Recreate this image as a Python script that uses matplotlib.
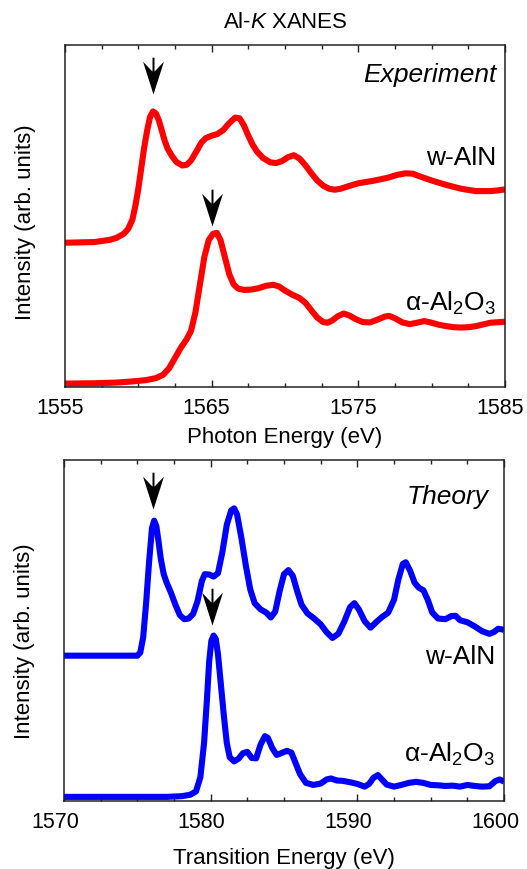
"""Al-K XANES: experiment vs theory for w-AlN and alpha-Al2O3 (two stacked panels)."""

import matplotlib

matplotlib.use("Agg")

import matplotlib.pyplot as plt
from matplotlib.path import Path
from matplotlib.ticker import MultipleLocator
from matplotlib.transforms import ScaledTranslation

plt.rcParams["font.family"] = ["Liberation Sans", "DejaVu Sans"]
plt.rcParams["mathtext.fontset"] = "custom"
plt.rcParams["mathtext.rm"] = "Liberation Sans"
plt.rcParams["mathtext.it"] = "Liberation Sans:italic"

# --- experiment (offset, normalised intensity) ---
exp_aln_e = [1555, 1556, 1557, 1558, 1558.5, 1559, 1559.3, 1559.6, 1559.8, 1560, 1560.2,
             1560.4, 1560.6, 1560.8, 1561, 1561.2, 1561.4, 1561.6, 1561.8, 1562, 1562.3,
             1562.6, 1563, 1563.3, 1563.6, 1564, 1564.3, 1564.6, 1565, 1565.4, 1565.8,
             1566.2, 1566.6, 1566.9, 1567.2, 1567.5, 1567.8, 1568.1, 1568.5, 1569, 1569.4,
             1569.8, 1570.2, 1570.6, 1571, 1571.4, 1571.8, 1572.2, 1572.6, 1573, 1573.4,
             1573.8, 1574.3, 1575, 1576, 1577, 1577.6, 1578.2, 1578.7, 1579.2, 1580, 1581,
             1582, 1583, 1584, 1584.5, 1585]
exp_aln_i = [0.422, 0.423, 0.424, 0.430, 0.436, 0.448, 0.462, 0.490, 0.530, 0.580, 0.640,
             0.700, 0.750, 0.790, 0.806, 0.800, 0.780, 0.750, 0.720, 0.697, 0.675,
             0.658, 0.648, 0.650, 0.663, 0.692, 0.715, 0.728, 0.735, 0.740, 0.752,
             0.772, 0.788, 0.786, 0.765, 0.735, 0.708, 0.688, 0.670, 0.657, 0.655,
             0.661, 0.672, 0.678, 0.668, 0.648, 0.625, 0.604, 0.589, 0.580, 0.577,
             0.580, 0.587, 0.596, 0.603, 0.612, 0.620, 0.625, 0.624, 0.616, 0.604, 0.591,
             0.580, 0.573, 0.573, 0.575, 0.578]

exp_al2o3_e = [1555, 1557, 1558.5, 1559.5, 1560.5, 1561.2, 1561.7, 1562.1, 1562.5, 1562.9,
               1563.3, 1563.6, 1563.9, 1564.2, 1564.5, 1564.8, 1565.1, 1565.35, 1565.6,
               1565.9, 1566.2, 1566.5, 1566.8, 1567.2, 1567.7, 1568.2, 1568.7, 1569.2,
               1569.6, 1570, 1570.5, 1571, 1571.4, 1571.8, 1572.2, 1572.6, 1572.9, 1573.2,
               1573.6, 1574, 1574.4, 1574.8, 1575.3, 1575.8, 1576.3, 1576.8, 1577.1, 1577.5,
               1578, 1578.5, 1579, 1579.5, 1580, 1580.5, 1581, 1581.5, 1582, 1582.5, 1583,
               1584, 1585]
exp_al2o3_i = [0.010, 0.011, 0.013, 0.016, 0.020, 0.026, 0.036, 0.055, 0.085, 0.115,
               0.140, 0.165, 0.220, 0.300, 0.380, 0.430, 0.448, 0.451, 0.430,
               0.380, 0.330, 0.300, 0.288, 0.284, 0.285, 0.289, 0.296, 0.299,
               0.294, 0.282, 0.270, 0.260, 0.246, 0.224, 0.203, 0.190, 0.188, 0.194,
               0.207, 0.215, 0.209, 0.199, 0.190, 0.189, 0.197, 0.206, 0.208, 0.201,
               0.189, 0.184, 0.188, 0.193, 0.188, 0.182, 0.178, 0.175, 0.174, 0.175, 0.178,
               0.188, 0.191]

# --- theory ---
th_aln_e = [1570, 1575, 1575.2, 1575.4, 1575.6, 1575.8, 1576, 1576.15, 1576.3, 1576.45,
            1576.6, 1576.8, 1577, 1577.3, 1577.6, 1577.9, 1578.2, 1578.5, 1578.8, 1579.1,
            1579.4, 1579.6, 1579.9, 1580.2, 1580.5, 1580.8, 1581.1, 1581.4, 1581.6, 1581.8,
            1582.1, 1582.4, 1582.7, 1583, 1583.4, 1583.8, 1584.1, 1584.4, 1584.7, 1585,
            1585.3, 1585.6, 1585.9, 1586.2, 1586.6, 1587, 1587.5, 1587.9, 1588.3, 1588.7,
            1589.1, 1589.5, 1589.8, 1590.1, 1590.5, 1590.9, 1591.3, 1591.7, 1592.1, 1592.5,
            1592.8, 1593.1, 1593.3, 1593.6, 1593.9, 1594.2, 1594.5, 1594.8, 1595.1, 1595.5,
            1596, 1596.4, 1596.7, 1597, 1597.5, 1598, 1598.5, 1599, 1599.3, 1599.6, 1600]
th_aln_i = [0.426, 0.426, 0.435, 0.480, 0.580, 0.700, 0.800, 0.822, 0.805, 0.760,
            0.710, 0.665, 0.640, 0.610, 0.575, 0.545, 0.533, 0.535, 0.548, 0.585,
            0.645, 0.665, 0.664, 0.658, 0.668, 0.730, 0.810, 0.852, 0.858, 0.840,
            0.770, 0.690, 0.620, 0.580, 0.562, 0.552, 0.538, 0.555, 0.615, 0.665,
            0.677, 0.660, 0.615, 0.575, 0.550, 0.537, 0.518, 0.495, 0.478, 0.490,
            0.525, 0.568, 0.580, 0.562, 0.527, 0.508, 0.525, 0.540, 0.552, 0.590,
            0.650, 0.695, 0.700, 0.675, 0.640, 0.625, 0.618, 0.590, 0.553, 0.535,
            0.533, 0.542, 0.543, 0.530, 0.524, 0.512, 0.498, 0.490, 0.495, 0.505, 0.502]

th_al2o3_e = [1570, 1577, 1578, 1578.6, 1579, 1579.3, 1579.55, 1579.75, 1579.9, 1580.05,
              1580.2, 1580.35, 1580.5, 1580.7, 1580.9, 1581.1, 1581.3, 1581.6, 1581.9,
              1582.2, 1582.5, 1582.8, 1583.1, 1583.4, 1583.7, 1583.9, 1584.2, 1584.5,
              1584.8, 1585.2, 1585.5, 1585.8, 1586.1, 1586.5, 1587, 1587.5, 1587.9, 1588.2,
              1588.6, 1589, 1589.5, 1590, 1590.5, 1590.8, 1591.1, 1591.4, 1591.7, 1592,
              1592.5, 1593, 1593.5, 1594, 1594.5, 1595, 1595.5, 1596, 1596.5, 1597, 1597.5,
              1598, 1598.5, 1599, 1599.4, 1599.7, 1600]
th_al2o3_i = [0.012, 0.012, 0.014, 0.018, 0.028, 0.070, 0.170, 0.300, 0.410, 0.470,
              0.485, 0.475, 0.430, 0.340, 0.250, 0.170, 0.128, 0.116, 0.124,
              0.140, 0.144, 0.126, 0.125, 0.165, 0.190, 0.185, 0.155, 0.135,
              0.140, 0.147, 0.142, 0.110, 0.078, 0.053, 0.047, 0.051, 0.063, 0.066,
              0.060, 0.059, 0.055, 0.050, 0.042, 0.050, 0.068, 0.076, 0.062, 0.048,
              0.042, 0.047, 0.053, 0.056, 0.053, 0.047, 0.046, 0.044, 0.045, 0.042, 0.047,
              0.044, 0.042, 0.043, 0.058, 0.063, 0.057]

# arrow tips marking the main edge peaks
exp_arrow_e = [1561.0, 1565.0]
exp_arrow_i = [0.858, 0.470]
th_arrow_e = [1576.1, 1580.1]
th_arrow_i = [0.855, 0.517]

exp_ticks = [1555, 1565, 1575, 1585]
th_ticks = [1570, 1580, 1590, 1600]

# notched arrowhead with short shaft, tip at the origin (units ~ px)
ARROW = Path([(0, 0), (10.5, 33), (1.0, 23), (1.0, 37), (-1.0, 37), (-1.0, 23),
              (-10.5, 33), (0, 0)], closed=True)

RED = "#ff0000"
BLUE = "#0000ff"
LW = 4.4


def style_axes(ax, ticks, shift_px):
    ax.set_xlim(ticks[0], ticks[-1])
    ax.set_ylim(0, 1)
    ax.set_yticks([])
    ax.set_xticks(ticks)
    ax.xaxis.set_minor_locator(MultipleLocator(2.5))
    ax.tick_params(axis="x", which="both", direction="in", top=True, labelsize=15.5,
                   pad=7, color="#222")
    ax.tick_params(axis="x", which="major", length=5, width=1)
    ax.tick_params(axis="x", which="minor", length=3, width=1)
    for s in ax.spines.values():
        s.set_linewidth(1.1)
        s.set_color("#222")
    # the original tick numbers sit a little left of their ticks
    offset = ScaledTranslation(-shift_px / 100, 0, ax.figure.dpi_scale_trans)
    for lab in ax.get_xticklabels():
        lab.set_transform(lab.get_transform() + offset)


fig = plt.figure(figsize=(5.27, 8.7), dpi=100)
ax1 = fig.add_axes([0.1233, 0.554, 0.835, 0.393])
ax2 = fig.add_axes([0.1214, 0.0782, 0.835, 0.392])

style_axes(ax1, exp_ticks, 5)
style_axes(ax2, th_ticks, 9)

line_kw = dict(lw=LW, solid_joinstyle="round", solid_capstyle="butt")
ax1.plot(exp_aln_e, exp_aln_i, color=RED, **line_kw)
ax1.plot(exp_al2o3_e, exp_al2o3_i, color=RED, **line_kw)
ax2.plot(th_aln_e, th_aln_i, color=BLUE, **line_kw)
ax2.plot(th_al2o3_e, th_al2o3_i, color=BLUE, **line_kw)

ax1.plot(exp_arrow_e, exp_arrow_i, ls="none", marker=ARROW, ms=53, color="black",
         mec="none")
ax2.plot(th_arrow_e, th_arrow_i, ls="none", marker=ARROW, ms=53, color="black",
         mec="none")

al2o3 = r"α-Al$_\mathregular{2}$O$_\mathregular{3}$"
ax1.text(0.98, 0.895, "Experiment", transform=ax1.transAxes, ha="right",
         va="baseline", fontsize=19, style="italic")
ax1.text(0.98, 0.653, "w-AlN", transform=ax1.transAxes, ha="right", va="baseline",
         fontsize=19)
ax1.text(0.98, 0.225, al2o3, transform=ax1.transAxes, ha="right", va="baseline",
         fontsize=19)

ax2.text(0.964, 0.875, "Theory", transform=ax2.transAxes, ha="right",
         va="baseline", fontsize=19, style="italic")
ax2.text(0.98, 0.406, "w-AlN", transform=ax2.transAxes, ha="right", va="baseline",
         fontsize=19)
ax2.text(0.98, 0.117, al2o3, transform=ax2.transAxes, ha="right", va="baseline",
         fontsize=19)

ax1.set_xlabel("Photon Energy (eV)", fontsize=16, labelpad=6)
ax2.set_xlabel("Transition Energy (eV)", fontsize=16, labelpad=11)
ax1.set_ylabel("Intensity (arb. units)", fontsize=16, va="center")
ax2.set_ylabel("Intensity (arb. units)", fontsize=16, va="center")
ax1.yaxis.set_label_coords(-0.09, 0.485)
ax2.yaxis.set_label_coords(-0.09, 0.47)

fig.text(285 / 527, 1 - 22 / 870, r"Al-$K$ XANES", ha="center", va="center",
         fontsize=16)

fig.savefig("out.png", dpi=100)
